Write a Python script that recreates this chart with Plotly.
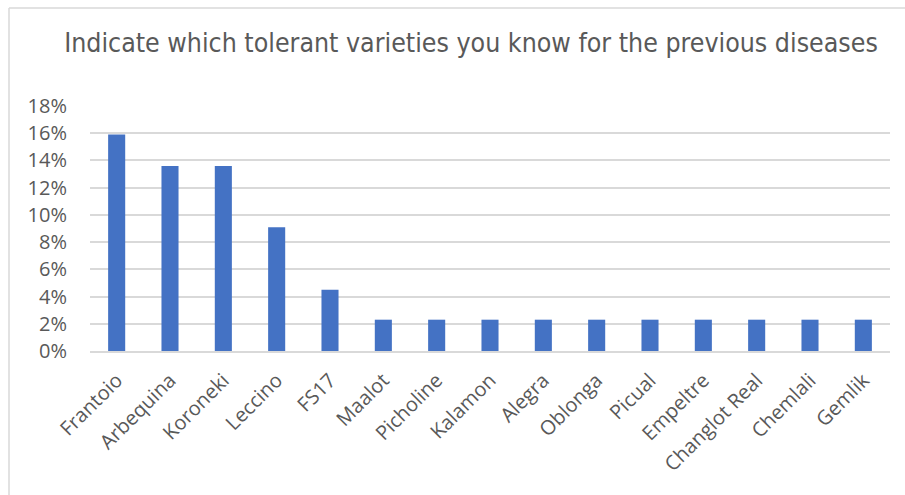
import plotly.graph_objects as go

varieties = ["Frantoio", "Arbequina", "Koroneki", "Leccino", "FS17", "Maalot",
             "Picholine", "Kalamon", "Alegra", "Oblonga", "Picual", "Empeltre",
             "Changlot Real", "Chemlali", "Gemlik"]
shares = [0.159, 0.136, 0.136, 0.091, 0.045, 0.023, 0.023, 0.023, 0.023,
          0.023, 0.023, 0.023, 0.023, 0.023, 0.023]
y_ticks = [0, 0.02, 0.04, 0.06, 0.08, 0.10, 0.12, 0.14, 0.16, 0.18]

W, H = 905, 495
ML, MR, MT, MB = 90, 15, 106, 144
pw, ph = W - ML - MR, H - MT - MB

fig = go.Figure(go.Bar(
    x=varieties, y=shares,
    marker=dict(color="#4472C4", line=dict(width=0)),
    width=0.32,
))

# thin chart-area frame along the top and left edges
def px_x(p):
    return (p - ML) / pw

def px_y(p):
    return 1 - (p - MT) / ph

fig.add_shape(type="line", xref="paper", yref="paper",
              x0=px_x(9), x1=px_x(910), y0=px_y(8), y1=px_y(8),
              line=dict(color="#D9D9D9", width=1.5))
fig.add_shape(type="line", xref="paper", yref="paper",
              x0=px_x(9), x1=px_x(9), y0=px_y(8), y1=px_y(500),
              line=dict(color="#D9D9D9", width=1.5))

fig.update_layout(
    width=W, height=H,
    margin=dict(l=ML, r=MR, t=MT, b=MB),
    paper_bgcolor="white", plot_bgcolor="white",
    showlegend=False,
    title=dict(
        text="Indicate which tolerant varieties you know for the previous diseases",
        x=471 / W, xanchor="center", y=1 - 43 / H, yanchor="middle",
        font=dict(family="DejaVu Sans Condensed", size=26.5, color="#595959"),
    ),
    xaxis=dict(
        tickangle=-45,
        tickfont=dict(family="Open Sans, sans-serif", size=20, color="#595959"),
        showgrid=False, showline=True, linecolor="#D9D9D9", linewidth=1.5,
        ticks="", ticklabelstandoff=8,
    ),
    yaxis=dict(
        range=[0, 0.18],
        tickvals=y_ticks,
        tickformat=".0%",
        tickfont=dict(family="Open Sans, sans-serif", size=20, color="#595959"),
        showgrid=True, gridcolor="#D9D9D9", gridwidth=1.5,
        zeroline=False, showline=False, ticks="", ticklabelstandoff=22,
    ),
    bargap=0.68,
)

fig.write_html("out.html")
